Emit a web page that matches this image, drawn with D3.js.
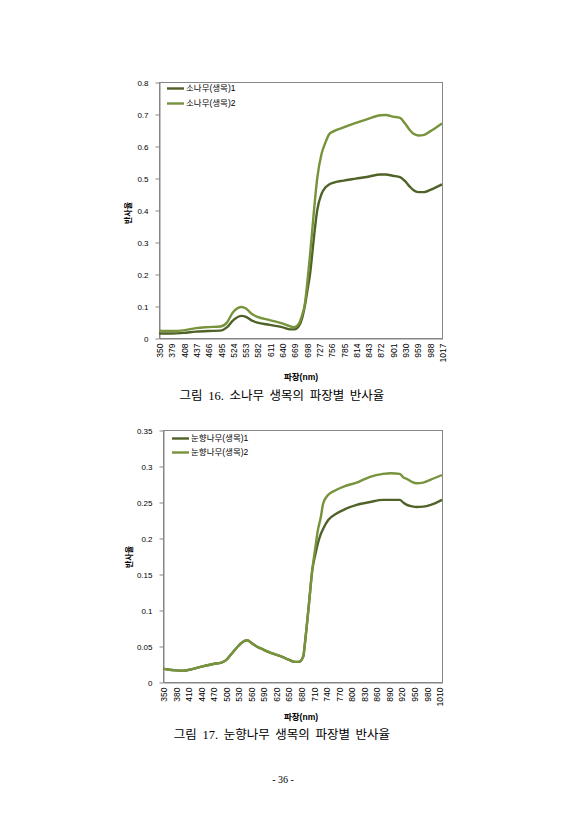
<!DOCTYPE html>
<html>
<head>
<meta charset="utf-8">
<script src="https://cdn.jsdelivr.net/npm/d3@7"></script>
<style>
  html, body { margin: 0; padding: 0; background: #fff; }
  svg { display: block; }
  .tick text { font-family: "Liberation Sans", "Noto Sans CJK KR", sans-serif; fill: #000; }
  .label { font-family: "Liberation Sans", "Noto Sans CJK KR", sans-serif; fill: #000; }
  .caption { font-family: "Liberation Serif", "Noto Sans CJK KR", serif; fill: #000; }
</style>
</head>
<body>
<div id="page"></div>
<script>
  // 그림 16 - 소나무(생목)
  var pine_wl = [350, 379, 408, 437, 466, 495, 510, 524, 545, 555, 570, 582, 611, 640, 660, 669, 680, 688, 693, 700,
                 706, 714, 723, 733, 742, 751, 760, 785, 814, 843, 872, 885, 901, 918, 930, 941, 950, 961, 975, 988, 1000, 1017];
  var pine_1 = [0.014, 0.014, 0.016, 0.020, 0.022, 0.023, 0.033, 0.054, 0.069, 0.066, 0.054, 0.048, 0.041, 0.034, 0.027, 0.027,
                0.038, 0.065, 0.095, 0.150, 0.200, 0.300, 0.400, 0.450, 0.470, 0.480, 0.485, 0.492, 0.498, 0.504, 0.511, 0.511,
                0.507, 0.503, 0.490, 0.473, 0.462, 0.456, 0.456, 0.462, 0.469, 0.480];
  var pine_2 = [0.023, 0.022, 0.024, 0.031, 0.034, 0.036, 0.048, 0.080, 0.097, 0.092, 0.074, 0.066, 0.056, 0.046, 0.036, 0.034,
                0.046, 0.075, 0.100, 0.180, 0.260, 0.380, 0.500, 0.575, 0.610, 0.637, 0.645, 0.658, 0.672, 0.685, 0.696, 0.697,
                0.692, 0.688, 0.670, 0.650, 0.638, 0.633, 0.635, 0.645, 0.655, 0.670];
  var pine_ticks = [350, 379, 408, 437, 466, 495, 524, 553, 582, 611, 640, 669, 698, 727, 756, 785, 814, 843, 872, 901, 930, 959, 988, 1017];
  var pine_yticks = [0, 0.1, 0.2, 0.3, 0.4, 0.5, 0.6, 0.7, 0.8];
  var pine_names = ['소나무(생목)1', '소나무(생목)2'];

  // 그림 17 - 눈향나무(생목)
  var juniper_wl = [350, 365, 380, 400, 410, 440, 470, 490, 500, 515, 530, 545, 552, 560, 575, 590, 605, 620, 635, 650, 665, 675,
                    685, 691, 699, 707, 715, 720, 727, 733, 745, 765, 785, 813, 845, 876, 895, 916, 925, 933, 945, 956, 972, 990, 1017];
  var juniper_1 = [0.0185, 0.017, 0.0162, 0.0158, 0.0166, 0.021, 0.025, 0.027, 0.030, 0.040, 0.050, 0.057, 0.058, 0.055, 0.049,
                   0.045, 0.041, 0.038, 0.035, 0.031, 0.028, 0.028, 0.035, 0.063, 0.109, 0.156, 0.179, 0.192, 0.205, 0.213, 0.225,
                   0.234, 0.240, 0.246, 0.250, 0.253, 0.253, 0.253, 0.249, 0.246, 0.244, 0.243, 0.2435, 0.246, 0.253];
  var juniper_2 = [0.0185, 0.017, 0.0162, 0.0158, 0.0166, 0.021, 0.025, 0.027, 0.030, 0.040, 0.050, 0.057, 0.058, 0.055, 0.049,
                   0.045, 0.041, 0.038, 0.035, 0.031, 0.028, 0.028, 0.035, 0.063, 0.109, 0.156, 0.190, 0.210, 0.228, 0.248, 0.260,
                   0.267, 0.272, 0.277, 0.285, 0.289, 0.290, 0.289, 0.284, 0.282, 0.278, 0.276, 0.277, 0.281, 0.2875];
  var juniper_ticks = [350, 380, 410, 440, 470, 500, 530, 560, 590, 620, 650, 680, 710, 740, 770, 800, 830, 860, 890, 920, 950, 980, 1010];
  var juniper_yticks = [0, 0.05, 0.1, 0.15, 0.2, 0.25, 0.3, 0.35];
  var juniper_names = ['눈향나무(생목)1', '눈향나무(생목)2'];

  var colors = ['#4F6228', '#77933C'];

  var svg = d3.select('#page').append('svg')
      .attr('width', 564)
      .attr('height', 840);

  var chart = (c) => {
    let x = d3.scaleLinear().domain([350, 1017]).range([c.left, c.right]);
    let y = d3.scaleLinear().domain([0, c.ymax]).range([c.bottom, c.top]);

    let g = svg.append('g');

    // plot border
    g.append('rect')
      .attr('x', c.left + 0.5)
      .attr('y', c.top + 0.5)
      .attr('width', c.right - c.left)
      .attr('height', c.bottom - c.top)
      .attr('fill', 'none')
      .attr('stroke', '#868686');

    // y axis
    let ya = g.append('g')
      .attr('transform', `translate(${ c.left + 0.5 }, 0.5)`)
      .call(d3.axisLeft(y).tickValues(c.yticks).tickSize(4).tickSizeOuter(0).tickPadding(7).tickFormat((d) => String(+d.toFixed(2))));
    ya.selectAll('.tick text').attr('font-size', 8);
    ya.selectAll('path, line').attr('stroke', '#868686');

    // x axis
    let xa = g.append('g')
      .attr('transform', `translate(0.5, ${ c.bottom + 0.5 })`)
      .call(d3.axisBottom(x).tickValues(c.xticks).tickSize(0).tickSizeOuter(0).tickFormat(d3.format('d')));
    xa.selectAll('.tick text')
      .attr('font-size', 8.5)
      .attr('transform', 'rotate(-90)')
      .attr('text-anchor', 'end')
      .attr('x', -5)
      .attr('y', 0)
      .attr('dy', '0.35em');
    xa.select('.domain').attr('stroke', '#868686');

    // lines
    let line = d3.line()
      .x((d) => x(d[0]))
      .y((d) => y(d[1]))
      .curve(d3.curveMonotoneX);

    c.series.forEach((s, i) => {
      g.append('path')
        .datum(c.wl.map((w, j) => [w, s[j]]))
        .attr('fill', 'none')
        .attr('stroke', colors[i])
        .attr('stroke-width', 2.4)
        .attr('stroke-linejoin', 'round')
        .attr('d', line);
    });

    // legend
    c.names.forEach((n, i) => {
      let ly = c.legend[1] + i * c.legend[2];
      g.append('line')
        .attr('x1', c.legend[0]).attr('x2', c.legend[0] + 17)
        .attr('y1', ly).attr('y2', ly)
        .attr('stroke', colors[i])
        .attr('stroke-width', 2.4);
      g.append('text')
        .attr('class', 'label')
        .attr('x', c.legend[0] + 19)
        .attr('y', ly)
        .attr('dy', '0.35em')
        .attr('font-size', 8.5)
        .text(n);
    });

    // axis titles
    g.append('text')
      .attr('class', 'label')
      .attr('transform', `translate(${ c.ytitle[0] }, ${ c.ytitle[1] }) rotate(-90)`)
      .attr('text-anchor', 'middle')
      .attr('dy', '0.35em')
      .attr('font-size', 8)
      .attr('font-weight', 'bold')
      .text('반사율');

    g.append('text')
      .attr('class', 'label')
      .attr('x', c.xtitle[0])
      .attr('y', c.xtitle[1])
      .attr('text-anchor', 'middle')
      .attr('dy', '0.35em')
      .attr('font-size', 8.5)
      .attr('font-weight', 'bold')
      .text('파장(nm)');

    g.append('text')
      .attr('class', 'caption')
      .attr('x', c.caption[0])
      .attr('y', c.caption[1])
      .attr('text-anchor', 'middle')
      .attr('font-size', 12.5)
      .attr('word-spacing', 2.5)
      .text(c.title);
  };

  chart({
    left: 159, right: 442, top: 82, bottom: 338, ymax: 0.8,
    wl: pine_wl, series: [pine_1, pine_2], names: pine_names,
    xticks: pine_ticks, yticks: pine_yticks,
    legend: [167, 88.5, 15], ytitle: [128, 213], xtitle: [301, 377],
    caption: [282, 400], title: '그림 16. 소나무 생목의 파장별 반사율'
  });

  chart({
    left: 163, right: 442, top: 430, bottom: 682, ymax: 0.35,
    wl: juniper_wl, series: [juniper_1, juniper_2], names: juniper_names,
    xticks: juniper_ticks, yticks: juniper_yticks,
    legend: [172, 438.5, 14], ytitle: [129, 557], xtitle: [301, 717],
    caption: [282, 739], title: '그림 17. 눈향나무 생목의 파장별 반사율'
  });

  svg.append('text')
    .attr('class', 'caption')
    .attr('x', 283)
    .attr('y', 783)
    .attr('text-anchor', 'middle')
    .attr('font-size', 10)
    .text('- 36 -');
</script>
</body>
</html>
